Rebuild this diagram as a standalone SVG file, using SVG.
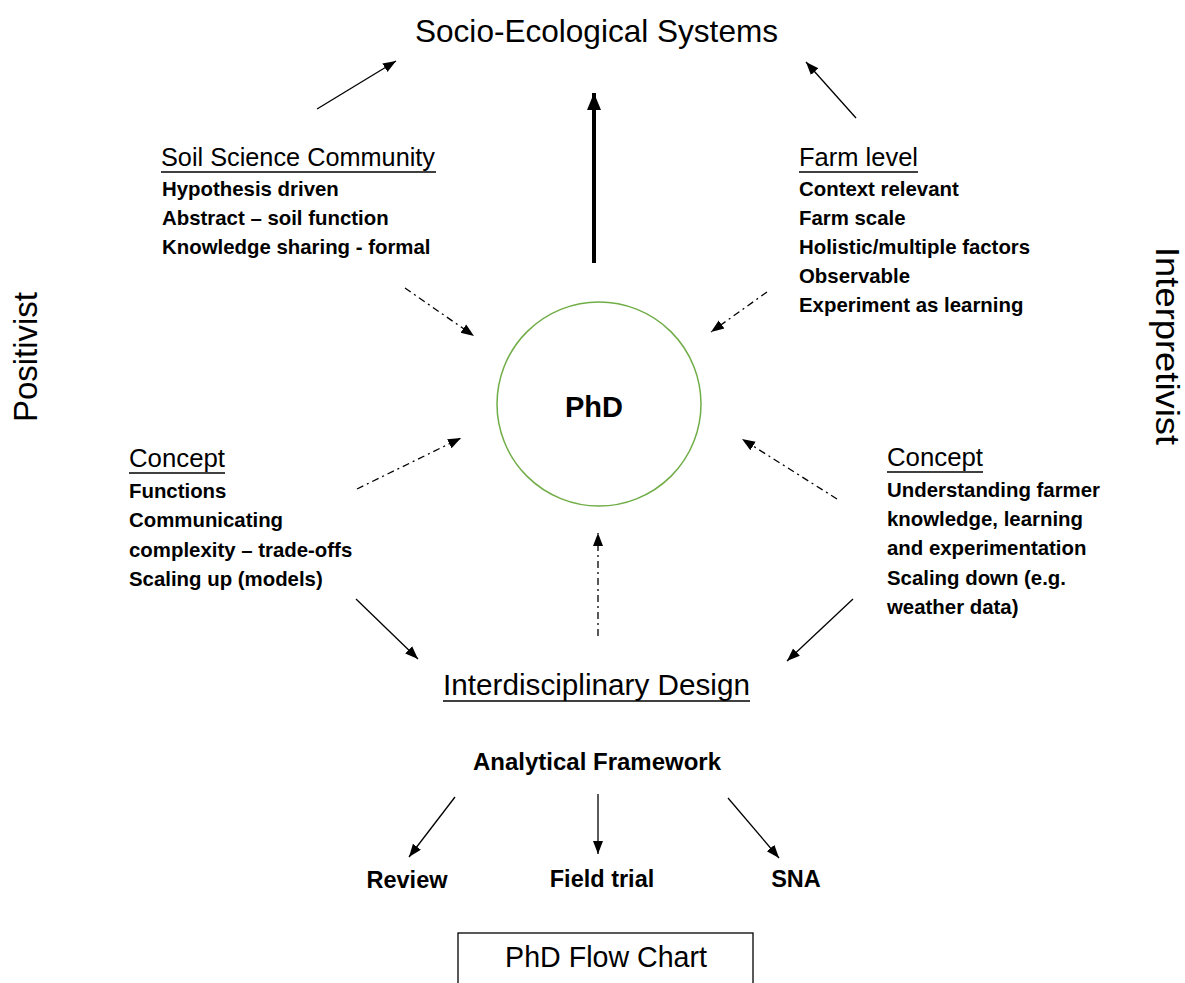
<svg xmlns="http://www.w3.org/2000/svg" width="1185" height="983" viewBox="0 0 1185 983">
<style>
text{font-family:"Liberation Sans",Arial,sans-serif;fill:#000}
.hd{font-size:25.5px}
.bd{font-size:20.4px;font-weight:bold}
.lb{font-size:23.5px;font-weight:bold}
.ln{stroke:#000;stroke-width:1.3;fill:none}
.dd{stroke:#000;stroke-width:1.3;fill:none;stroke-dasharray:7 4 2 4}
.ul{stroke:#000;stroke-width:1.5}
</style>
<defs>
<marker id="ah" markerUnits="userSpaceOnUse" markerWidth="14" markerHeight="12" viewBox="0 0 14 12" refX="13" refY="6" orient="auto">
<path d="M0,1 L13,6 L0,11 Z" fill="#000"/>
</marker>
<marker id="ahb" markerUnits="userSpaceOnUse" markerWidth="18" markerHeight="16" viewBox="0 0 18 16" refX="17" refY="8" orient="auto">
<path d="M0,1 L17,8 L0,15 Z" fill="#000"/>
</marker>
</defs>
<rect width="1185" height="983" fill="#fff"/>

<g id="connectors">
<line class="ln" x1="317" y1="109" x2="396" y2="61" marker-end="url(#ah)"/>
<line class="ln" x1="856" y1="118" x2="806" y2="62" marker-end="url(#ah)"/>
<line x1="594" y1="263" x2="594" y2="93" stroke="#000" stroke-width="4" marker-end="url(#ahb)"/>
<line class="dd" x1="405" y1="288" x2="474" y2="336" marker-end="url(#ah)"/>
<line class="dd" x1="767" y1="292" x2="711" y2="332" marker-end="url(#ah)"/>
<line class="dd" x1="357" y1="489" x2="461" y2="438" marker-end="url(#ah)"/>
<line class="dd" x1="837" y1="499" x2="742" y2="439" marker-end="url(#ah)"/>
<line class="dd" x1="598" y1="636" x2="598" y2="533" marker-end="url(#ah)"/>
<line class="ln" x1="356" y1="599" x2="418" y2="659" marker-end="url(#ah)"/>
<line class="ln" x1="853" y1="599" x2="787" y2="661" marker-end="url(#ah)"/>
<line class="ln" x1="455" y1="797" x2="409" y2="857" marker-end="url(#ah)"/>
<line class="ln" x1="598" y1="794" x2="598" y2="854" marker-end="url(#ah)"/>
<line class="ln" x1="728" y1="798" x2="779" y2="858" marker-end="url(#ah)"/>
</g>

<g id="title">
<text x="415" y="42" font-size="32" textLength="363" lengthAdjust="spacingAndGlyphs">Socio-Ecological Systems</text>
</g>

<g id="positivist">
<text transform="translate(37,357) rotate(-90)" font-size="34" text-anchor="middle" textLength="130" lengthAdjust="spacingAndGlyphs">Positivist</text>
</g>

<g id="interpretivist">
<text transform="translate(1156,346) rotate(90)" font-size="34" text-anchor="middle" textLength="198" lengthAdjust="spacingAndGlyphs">Interpretivist</text>
</g>

<g id="soil-science">
<text class="hd" x="161" y="166" textLength="274" lengthAdjust="spacingAndGlyphs">Soil Science Community</text>
<line class="ul" x1="161" y1="172" x2="436" y2="172"/>
<text class="bd" x="162" y="196">Hypothesis driven</text>
<text class="bd" x="162" y="225">Abstract – soil function</text>
<text class="bd" x="162" y="254">Knowledge sharing - formal</text>
</g>

<g id="farm-level">
<text class="hd" x="799" y="166" textLength="119" lengthAdjust="spacingAndGlyphs">Farm level</text>
<line class="ul" x1="799" y1="172" x2="918" y2="172"/>
<text class="bd" x="799" y="196">Context relevant</text>
<text class="bd" x="799" y="225">Farm scale</text>
<text class="bd" x="799" y="254">Holistic/multiple factors</text>
<text class="bd" x="799" y="283">Observable</text>
<text class="bd" x="799" y="312">Experiment as learning</text>
</g>

<g id="phd">
<circle cx="599" cy="404" r="102" fill="none" stroke="#70AD47" stroke-width="1.5"/>
<text x="594" y="417" font-size="29" font-weight="bold" text-anchor="middle">PhD</text>
</g>

<g id="concept-left">
<text class="hd" x="129" y="467" textLength="96" lengthAdjust="spacingAndGlyphs">Concept</text>
<line class="ul" x1="129" y1="473" x2="225" y2="473"/>
<text class="bd" x="129" y="498">Functions</text>
<text class="bd" x="129" y="527">Communicating</text>
<text class="bd" x="129" y="557">complexity – trade-offs</text>
<text class="bd" x="129" y="586">Scaling up (models)</text>
</g>

<g id="concept-right">
<text class="hd" x="887" y="466" textLength="96" lengthAdjust="spacingAndGlyphs">Concept</text>
<line class="ul" x1="887" y1="472" x2="983" y2="472"/>
<text class="bd" x="887" y="497">Understanding farmer</text>
<text class="bd" x="887" y="526">knowledge, learning</text>
<text class="bd" x="887" y="555">and experimentation</text>
<text class="bd" x="887" y="585">Scaling down (e.g.</text>
<text class="bd" x="887" y="614">weather data)</text>
</g>

<g id="interdisciplinary">
<text x="443" y="695" font-size="29.7" textLength="307" lengthAdjust="spacingAndGlyphs">Interdisciplinary Design</text>
<line class="ul" x1="443" y1="701" x2="750" y2="701"/>
</g>

<g id="analytical">
<text class="lb" x="597" y="770" text-anchor="middle" textLength="248" lengthAdjust="spacingAndGlyphs">Analytical Framework</text>
</g>

<g id="review"><text class="lb" x="407" y="888" text-anchor="middle">Review</text></g>
<g id="field-trial"><text class="lb" x="602" y="887" text-anchor="middle">Field trial</text></g>
<g id="sna"><text class="lb" x="796" y="887" text-anchor="middle">SNA</text></g>

<g id="flow-chart">
<rect x="458" y="933" width="295" height="60" fill="none" stroke="#000" stroke-width="1.3"/>
<text x="606" y="967" font-size="28.6" text-anchor="middle">PhD Flow Chart</text>
</g>
</svg>
